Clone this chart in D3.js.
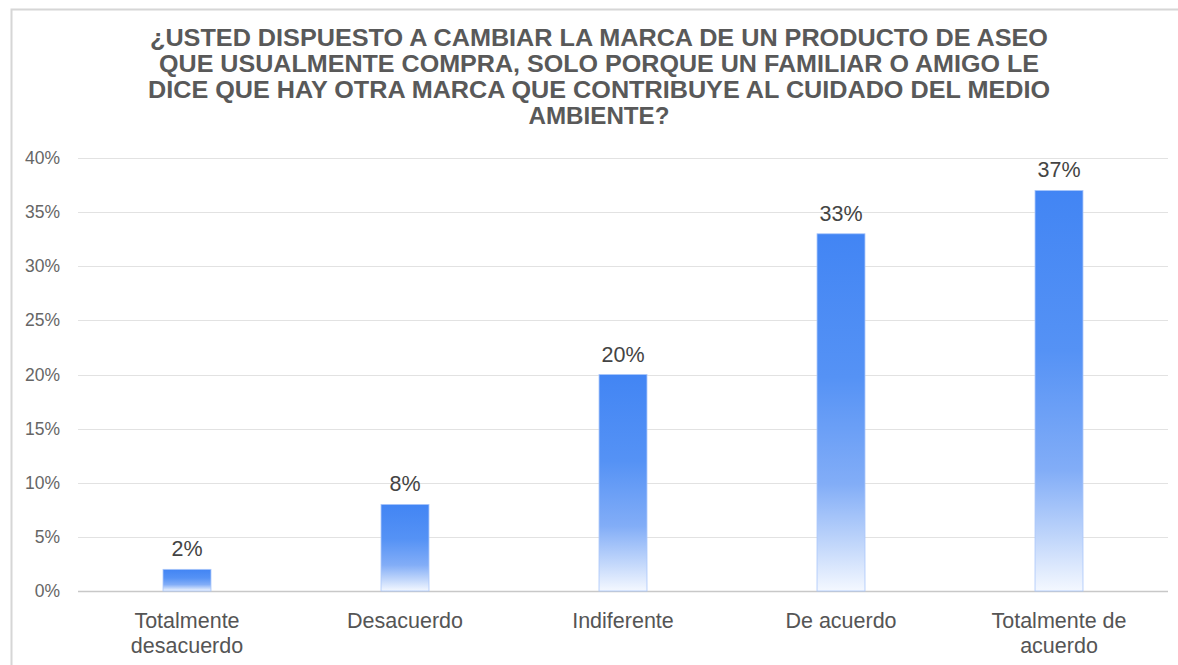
<!DOCTYPE html>
<html>
<head>
<meta charset="utf-8">
<script src="https://cdn.jsdelivr.net/npm/d3@7/dist/d3.min.js"></script>
<style>
  html, body { margin: 0; padding: 0; background: #fff; }
  svg { display: block; font-family: "Liberation Sans", Arial, sans-serif; }
</style>
</head>
<body>
<svg id="chart" width="1178" height="665"></svg>
<script>
// Survey answers and their shares (%)
const categories = ["Totalmente desacuerdo", "Desacuerdo", "Indiferente", "De acuerdo", "Totalmente de acuerdo"];
const categoryLines = [["Totalmente", "desacuerdo"], ["Desacuerdo"], ["Indiferente"], ["De acuerdo"], ["Totalmente de", "acuerdo"]];
const values = [2, 8, 20, 33, 37];
const yTicks = [0, 5, 10, 15, 20, 25, 30, 35, 40];
const titleLines = [
  "¿USTED DISPUESTO A CAMBIAR LA MARCA DE UN PRODUCTO DE ASEO",
  "QUE USUALMENTE COMPRA, SOLO PORQUE UN FAMILIAR O AMIGO LE",
  "DICE QUE HAY OTRA MARCA QUE CONTRIBUYE AL CUIDADO DEL MEDIO",
  "AMBIENTE?"
];
const titleWidths = [898, 880, 902, 141];

const svg = d3.select("#chart");
const W = 1178, H = 665;
const plot = { left: 78, right: 1168, top: 158, bottom: 591 };

// Frame
svg.append("path")
  .attr("d", `M11.5,${H} V9.5 H${W}`)
  .attr("fill", "none")
  .attr("stroke", "#d6d6d6")
  .attr("stroke-width", 2);

// Title (bold, slightly condensed)
const title = svg.append("g").attr("class", "title");
titleLines.forEach((t, i) => {
  title.append("text")
    .attr("x", 599)
    .attr("y", 46 + i * 26)
    .attr("text-anchor", "middle")
    .attr("font-size", 23)
    .attr("font-weight", "bold")
    .attr("fill", "#595959")
    .attr("textLength", titleWidths[i])
    .attr("lengthAdjust", "spacingAndGlyphs")
    .text(t);
});

const x = d3.scaleBand()
  .domain(categories)
  .range([plot.left, plot.right])
  .paddingInner(0.78)
  .paddingOuter(0.39);

const y = d3.scaleLinear()
  .domain([0, 40])
  .range([plot.bottom, plot.top]);

// Gridlines
svg.append("g")
  .selectAll("line")
  .data(yTicks)
  .join("line")
  .attr("x1", plot.left)
  .attr("x2", plot.right)
  .attr("y1", d => Math.round(y(d)) + 0.5)
  .attr("y2", d => Math.round(y(d)) + 0.5)
  .attr("stroke", d => d === 0 ? "#c8c8c8" : "#e2e2e2")
  .attr("stroke-width", d => d === 0 ? 1.5 : 1.2);

// Y axis labels
const yAxis = d3.axisLeft(y)
  .tickValues(yTicks)
  .tickFormat(d => d + "%")
  .tickSize(0)
  .tickPadding(0);
const yg = svg.append("g")
  .attr("transform", `translate(60,0)`)
  .call(yAxis);
yg.select(".domain").remove();
yg.selectAll("text")
  .attr("font-family", "'Liberation Sans', Arial, sans-serif")
  .attr("font-size", 17.5)
  .attr("fill", "#666");

// Bar fill: solid blue at the top fading to white at the base
const defs = svg.append("defs");
const grad = defs.append("linearGradient")
  .attr("id", "barFade")
  .attr("x1", 0).attr("y1", 0).attr("x2", 0).attr("y2", 1);
grad.append("stop").attr("offset", "0%").attr("stop-color", "#4285f4");
grad.append("stop").attr("offset", "40%").attr("stop-color", "#5592f5");
grad.append("stop").attr("offset", "70%").attr("stop-color", "#82adf7");
grad.append("stop").attr("offset", "88%").attr("stop-color", "#c5d9fb");
grad.append("stop").attr("offset", "100%").attr("stop-color", "#f4f8ff");

svg.append("g")
  .selectAll("rect")
  .data(values)
  .join("rect")
  .attr("x", (d, i) => x(categories[i]))
  .attr("y", d => y(d))
  .attr("width", x.bandwidth())
  .attr("height", d => y(0) - y(d))
  .attr("fill", "url(#barFade)")
  .attr("stroke", "#a9c6fa")
  .attr("stroke-width", 0.8);

// Value labels
svg.append("g")
  .selectAll("text")
  .data(values)
  .join("text")
  .attr("x", (d, i) => x(categories[i]) + x.bandwidth() / 2)
  .attr("y", d => y(d) - 13)
  .attr("text-anchor", "middle")
  .attr("font-size", 21.5)
  .attr("fill", "#444")
  .text(d => d + "%");

// Category labels
const xg = svg.append("g");
categories.forEach((c, i) => {
  const cx = x(c) + x.bandwidth() / 2;
  const t = xg.append("text")
    .attr("x", cx)
    .attr("y", 628)
    .attr("text-anchor", "middle")
    .attr("font-size", 21.5)
    .attr("fill", "#555");
  categoryLines[i].forEach((line, j) => {
    t.append("tspan")
      .attr("x", cx)
      .attr("dy", j === 0 ? 0 : 25)
      .text(line);
  });
});
</script>
</body>
</html>
